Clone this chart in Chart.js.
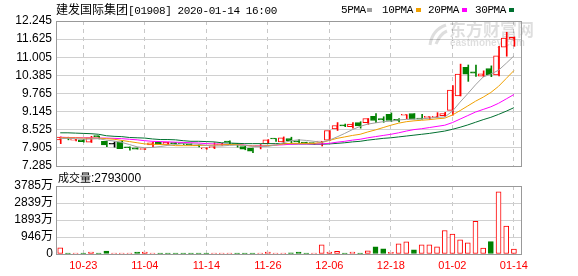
<!DOCTYPE html>
<html lang="zh-CN">
<head>
<meta charset="UTF-8">
<title>建发国际集团 K线</title>
<script src="https://cdn.jsdelivr.net/npm/chart.js@4/dist/chart.umd.min.js"></script>
<style>
  * { margin: 0; padding: 0; box-sizing: border-box; }
  body { background: #fff; width: 578px; height: 276px; overflow: hidden; }
  #wrap { position: relative; width: 578px; height: 276px; }
  canvas { position: absolute; left: 0; }
  #price { top: 0; }
  #volume { top: 168px; }
  .txt { position: absolute; white-space: nowrap; color: #000; line-height: 12px; }
  .cjk { font-family: "Noto Sans CJK SC", sans-serif; font-size: 12px; }
  .mono { font-family: "Liberation Mono", monospace; font-size: 11px; letter-spacing: -0.4px; }
  .sq { position: absolute; width: 5px; height: 4px; }
</style>
</head>
<body>
<div id="wrap">
  <canvas id="price" width="578" height="180"></canvas>
  <canvas id="volume" width="578" height="108"></canvas>
  <div class="txt" style="left:56px; top:3px;"><span class="cjk">建发国际集团</span><span class="mono">[01908] 2020-01-14 16:00</span></div>
  <div class="txt mono" style="left:341px; top:4px;">5PMA</div>
  <div class="sq" style="left:367px; top:8px; background:#a0a0a0;"></div>
  <div class="txt mono" style="left:382px; top:4px;">10PMA</div>
  <div class="sq" style="left:416px; top:8px; background:#f0a000;"></div>
  <div class="txt mono" style="left:428px; top:4px;">20PMA</div>
  <div class="sq" style="left:462px; top:8px; background:#ff00ff;"></div>
  <div class="txt mono" style="left:475px; top:4px;">30PMA</div>
  <div class="sq" style="left:509px; top:8px; background:#007030;"></div>
  <div class="txt" style="left:58px; top:171px;"><span class="cjk" style="font-size:11px;">成交量</span><span style="font-family:'Liberation Sans'; font-size:12px;">:2793000</span></div>
</div>

<script>
// 60 trading days, 2019-10-18 .. 2020-01-14
const opens  = [8.18,8.25,8.17,8.18,8.10,8.31,8.13,8.03,8.11,7.93, 7.91,7.85,8.01,8.10,8.02,8.07,8.05,8.03,8.00,7.87,
                7.91,8.01,8.12,8.05,7.95,7.90,7.94,8.05,8.22,8.11, 8.22,8.15,8.09,8.06,8.10,8.17,8.55,8.68,8.63,8.77,
                8.77,8.98,8.91,9.05,8.88,9.02,9.08,8.91,8.95,8.95, 9.01,9.19,9.68,10.66,10.51,10.36,10.62,10.40,11.35,11.62];
const highs  = [8.28,8.27,8.20,8.20,8.30,8.31,8.14,8.11,8.16,7.94, 7.91,7.88,8.11,8.10,8.10,8.09,8.06,8.05,8.02,7.91,
                8.08,8.06,8.15,8.06,7.96,7.90,8.02,8.19,8.22,8.28, 8.27,8.19,8.10,8.07,8.12,8.50,8.77,8.72,8.77,8.80,
                8.91,9.08,8.97,9.10,8.91,9.04,9.08,9.05,8.97,9.11, 9.12,10.04,10.77,10.74,10.74,10.54,10.71,11.38,11.86,11.70];
const lows   = [8.05,8.18,8.14,8.10,8.09,8.21,7.95,7.93,7.88,7.83, 7.86,7.85,7.94,8.02,8.02,8.03,8.02,7.99,7.94,7.86,
                7.88,7.99,8.04,7.93,7.84,7.74,7.87,8.05,8.13,8.06, 8.06,8.05,8.06,8.03,7.97,8.15,8.50,8.63,8.58,8.58,
                8.71,8.77,8.78,8.80,8.79,8.90,8.89,8.89,8.88,8.95, 8.97,9.02,9.68,10.18,10.35,10.34,10.34,10.37,11.04,11.38];
const closes = [8.27,8.23,8.19,8.12,8.25,8.29,8.01,8.03,7.88,7.91, 7.86,7.87,8.08,8.02,8.10,8.05,8.04,8.01,7.97,7.88,
                7.95,8.04,8.10,8.02,7.86,7.79,7.97,8.18,8.21,8.25, 8.15,8.11,8.07,8.05,8.12,8.50,8.67,8.66,8.72,8.66,
                8.91,8.84,8.86,8.84,8.83,9.04,8.89,8.89,8.97,8.97, 9.08,9.88,10.43,10.43,10.46,10.44,10.40,11.05,11.66,11.69];

const ma5  = [8.22,8.23,8.22,8.20,8.21,8.22,8.17,8.14,8.09,8.02, 7.94,7.91,7.92,7.95,7.99,8.02,8.06,8.04,8.03,7.99,
              7.97,7.97,7.99,8.00,7.99,7.96,7.95,7.96,8.00,8.08, 8.15,8.18,8.16,8.13,8.10,8.17,8.28,8.40,8.53,8.64,
              8.72,8.76,8.80,8.82,8.86,8.88,8.89,8.90,8.92,8.95, 8.96,9.16,9.47,9.76,10.06,10.33,10.43,10.56,10.80,11.05];
const ma10 = [8.25,8.25,8.25,8.24,8.24,8.24,8.22,8.20,8.16,8.12, 8.08,8.04,8.03,8.02,8.01,7.98,7.98,7.98,7.99,7.99,
              8.00,8.01,8.02,8.02,7.99,7.97,7.96,7.98,8.00,8.04, 8.06,8.06,8.06,8.06,8.09,8.16,8.23,8.28,8.33,8.37,
              8.45,8.52,8.60,8.68,8.75,8.80,8.83,8.85,8.87,8.90, 8.92,9.03,9.18,9.34,9.50,9.64,9.80,10.01,10.28,10.55];
const ma20 = [8.27,8.26,8.26,8.25,8.25,8.24,8.24,8.23,8.22,8.20, 8.18,8.15,8.13,8.12,8.11,8.10,8.09,8.08,8.07,8.05,
              8.04,8.03,8.02,8.02,8.00,7.97,7.97,7.98,8.00,8.01, 8.03,8.04,8.04,8.04,8.04,8.06,8.10,8.13,8.17,8.20,
              8.25,8.29,8.33,8.37,8.42,8.48,8.53,8.56,8.60,8.64, 8.68,8.77,8.89,9.01,9.13,9.22,9.31,9.43,9.58,9.73];
const ma30 = [8.42,8.42,8.41,8.40,8.39,8.37,8.32,8.30,8.29,8.26, 8.25,8.24,8.21,8.19,8.19,8.18,8.15,8.13,8.13,8.12,
              8.11,8.08,8.07,8.06,8.05,8.05,8.05,8.05,8.05,8.05, 8.04,8.04,8.04,8.03,8.03,8.04,8.06,8.08,8.11,8.13,
              8.17,8.20,8.23,8.25,8.28,8.31,8.34,8.37,8.40,8.44, 8.48,8.54,8.61,8.69,8.78,8.87,8.95,9.05,9.16,9.28];

// volume in 万 shares, and whether the volume bar is red (1) or green (0)
const vols  = [345,50,45,50,110,50,165,55,50,50, 110,110,55,50,50,45,50,45,50,55,
               50,45,50,55,50,45,55,100,50,55, 60,100,50,45,510,110,145,50,100,55,
               180,400,290,90,565,675,235,510,510,400, 1310,1110,785,620,1820,330,690,3460,1550,279.3];
const volUp = [1,0,1,0,1,0,0,1,1,1, 0,1,1,0,0,0,0,0,0,0,
               1,1,1,0,0,0,1,1,1,1, 0,0,0,1,1,1,1,0,1,0,
               1,0,0,1,1,1,0,1,1,1, 1,1,1,1,1,1,0,1,1,1];

const tickIdx    = [3, 11, 19, 27, 35, 43, 51, 59];
const tickLabels = ['10-23', '11-04', '11-14', '11-26', '12-06', '12-18', '01-02', '01-14'];
const priceTicks = [7.285, 7.905, 8.525, 9.145, 9.765, 10.385, 11.005, 11.625, 12.245];
const priceTickLabels = ['7.285', '7.905', '8.525', '9.145', '9.765', '10.385', '11.005', '11.625', '12.245'];
const volTicks = [0, 946.25, 1892.5, 2838.75, 3785];
const volTickLabels = ['0', '946万', '1893万', '2839万', '3785万'];

const RED = '#ff0000', GREEN = '#008000', DOJI = '#000000';
const idx = closes.map((c, i) => i);
const candleColor = idx.map(i => closes[i] > opens[i] ? RED : (closes[i] < opens[i] ? GREEN : DOJI));

// frame round the plot area
const framePlugin = {
  id: 'frame',
  afterDraw(chart) {
    const a = chart.chartArea, ctx = chart.ctx;
    ctx.save();
    ctx.strokeStyle = '#999';
    ctx.lineWidth = 1;
    ctx.strokeRect(Math.round(a.left) + 0.5, Math.round(a.top) + 0.5,
                   Math.round(a.right - a.left) - 1, Math.round(a.bottom - a.top));
    ctx.restore();
  }
};

// faint eastmoney watermark
const watermark = {
  id: 'watermark',
  beforeDatasetsDraw(chart) {
    const ctx = chart.ctx;
    ctx.save();
    ctx.fillStyle = 'rgba(0,0,0,0.13)';
    ctx.font = 'bold 17px "Noto Sans CJK SC"';
    ctx.textBaseline = 'top';
    ctx.fillText('东方财富网', 449, 21);
    ctx.font = 'bold 10px "Liberation Sans"';
    ctx.fillText('eastmoney.com', 450, 38);
    ctx.lineWidth = 3;
    ctx.strokeStyle = 'rgba(0,0,0,0.13)';
    ctx.beginPath();
    ctx.moveTo(430, 45); ctx.quadraticCurveTo(432, 30, 446, 25);
    ctx.moveTo(436, 44); ctx.quadraticCurveTo(440, 34, 447, 31);
    ctx.stroke();
    ctx.restore();
  }
};

const xScale = (showTicks) => ({
  type: 'linear',
  min: -0.55,
  max: 60.05,
  offset: false,
  afterBuildTicks: s => { s.ticks = tickIdx.map(v => ({ value: v })); },
  afterFit: s => { s.height = showTicks ? 22 : 14; },
  grid: { color: '#c8c8c8', drawTicks: false, offset: false },
  border: { display: false, dash: [4, 4] },
  ticks: {
    display: showTicks,
    autoSkip: false,
    maxRotation: 0,
    padding: 5,
    color: RED,
    font: { family: 'Liberation Sans', size: 11 },
    callback: (v) => tickLabels[tickIdx.indexOf(v)]
  }
});

new Chart(document.getElementById('price'), {
  type: 'bar',
  data: {
    datasets: [
      { type: 'line', label: '5PMA', data: idx.map(i => ({ x: i, y: ma5[i] })), borderColor: '#a0a0a0', borderWidth: 1, pointRadius: 0, order: 0 },
      { type: 'line', label: '10PMA', data: idx.map(i => ({ x: i, y: ma10[i] })), borderColor: '#f0a000', borderWidth: 1, pointRadius: 0, order: 0 },
      { type: 'line', label: '20PMA', data: idx.map(i => ({ x: i, y: ma20[i] })), borderColor: '#ff00ff', borderWidth: 1, pointRadius: 0, order: 0 },
      { type: 'line', label: '30PMA', data: idx.map(i => ({ x: i, y: ma30[i] })), borderColor: '#007030', borderWidth: 1, pointRadius: 0, order: 0 },
      {
        label: 'body',
        data: idx.map(i => ({ x: i, y: [opens[i], closes[i]] })),
        backgroundColor: idx.map(i => candleColor[i] === RED ? '#fff' : candleColor[i]),
        borderColor: candleColor,
        borderWidth: 1,
        borderSkipped: false,
        minBarLength: 1,
        barThickness: 5,
        grouping: false,
        order: 1
      },
      {
        label: 'wick',
        data: idx.map(i => ({ x: i, y: [lows[i], highs[i]] })),
        backgroundColor: candleColor,
        borderWidth: 0,
        barThickness: 1,
        grouping: false,
        order: 2
      }
    ]
  },
  options: {
    responsive: false,
    animation: false,
    layout: { padding: { top: 21, right: 56, left: 0, bottom: 0 } },
    plugins: { legend: { display: false }, tooltip: { enabled: false } },
    scales: {
      x: xScale(false),
      y: {
        type: 'linear',
        min: 7.285,
        max: 12.245,
        afterBuildTicks: s => { s.ticks = priceTicks.map(v => ({ value: v })); },
        afterFit: s => { s.width = 56; },
        grid: { color: '#d0d0d0', drawTicks: false },
        border: { display: false },
        ticks: {
          autoSkip: false,
          padding: 4,
          color: '#000',
          font: { family: 'Liberation Sans', size: 12 },
          callback: (v, i) => priceTickLabels[i]
        }
      }
    }
  },
  plugins: [watermark, framePlugin]
});

new Chart(document.getElementById('volume'), {
  type: 'bar',
  data: {
    datasets: [{
      label: '成交量',
      data: idx.map(i => ({ x: i, y: vols[i] })),
      backgroundColor: idx.map(i => volUp[i] ? '#fff' : GREEN),
      borderColor: idx.map(i => volUp[i] ? RED : GREEN),
      borderWidth: 1,
      borderSkipped: false,
      minBarLength: 1,
      barThickness: 5,
      grouping: false
    }]
  },
  options: {
    responsive: false,
    animation: false,
    layout: { padding: { top: 18, right: 56, left: 0, bottom: 0 } },
    plugins: { legend: { display: false }, tooltip: { enabled: false } },
    scales: {
      x: xScale(true),
      y: {
        type: 'linear',
        min: 0,
        max: 3785,
        afterBuildTicks: s => { s.ticks = volTicks.map(v => ({ value: v })); },
        afterFit: s => { s.width = 56; },
        grid: { color: '#d0d0d0', drawTicks: false },
        border: { display: false },
        ticks: {
          autoSkip: false,
          padding: 3,
          color: '#000',
          font: { family: 'Liberation Sans', size: 12 },
          callback: (v, i) => volTickLabels[i]
        }
      }
    }
  },
  plugins: [framePlugin]
});
</script>
</body>
</html>
